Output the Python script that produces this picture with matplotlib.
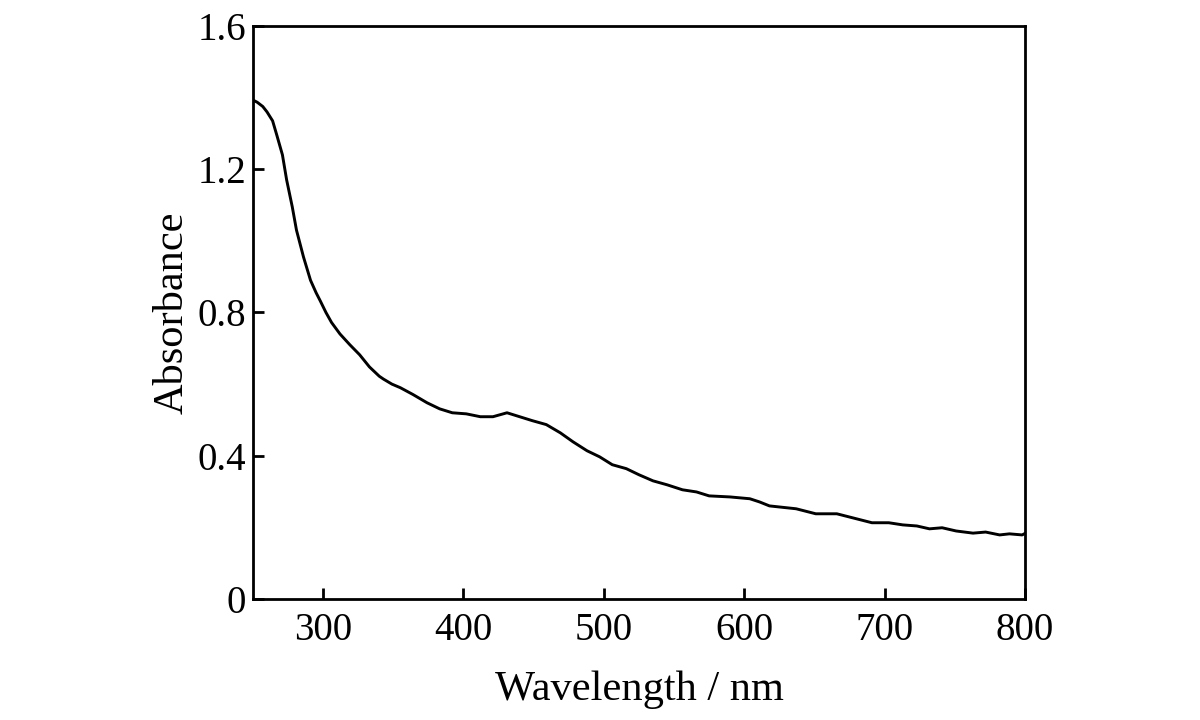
import matplotlib
matplotlib.use("Agg")
import matplotlib.pyplot as plt

# UV-vis spectrum
wavelength = [250, 253, 257, 260, 264, 267, 271, 274, 278, 281, 286, 291, 295, 298,
              302, 306, 312, 319, 326, 333, 340, 343, 349, 355, 364, 374, 383, 392,
              402, 412, 421, 431, 440, 449, 459, 469, 478, 488, 497, 506, 516, 525,
              535, 545, 556, 566, 575, 590, 604, 611, 618, 637, 651, 666, 680, 691,
              703, 713, 723, 732, 741, 751, 763, 772, 782, 789, 798, 800]
absorbance = [1.393, 1.387, 1.375, 1.36, 1.335, 1.295, 1.24, 1.17, 1.095, 1.03, 0.955,
              0.89, 0.855, 0.832, 0.80, 0.772, 0.74, 0.71, 0.682, 0.648, 0.622, 0.614,
              0.60, 0.59, 0.571, 0.548, 0.531, 0.52, 0.517, 0.509, 0.509, 0.52, 0.509,
              0.498, 0.487, 0.464, 0.439, 0.414, 0.397, 0.375, 0.364, 0.347, 0.33,
              0.319, 0.305, 0.299, 0.288, 0.285, 0.28, 0.271, 0.26, 0.252, 0.238,
              0.238, 0.224, 0.213, 0.213, 0.207, 0.204, 0.196, 0.199, 0.19, 0.184,
              0.187, 0.179, 0.182, 0.179, 0.183]

x_ticks = [300, 400, 500, 600, 700, 800]
y_ticks = [0, 0.4, 0.8, 1.2, 1.6]
y_tick_labels = ["0", "0.4", "0.8", "1.2", "1.6"]

plt.rcParams['font.family'] = ['Liberation Serif', 'DejaVu Serif']

fig = plt.figure(figsize=(12, 7.2), dpi=100)
ax = fig.add_axes([0.2108, 0.168, 0.6433, 0.796])

ax.plot(wavelength, absorbance, color="black", linewidth=2.1)

ax.set_xlim(250, 800)
ax.set_ylim(0, 1.6)
ax.set_xticks(x_ticks)
ax.set_yticks(y_ticks)
ax.set_yticklabels(y_tick_labels)

ax.tick_params(direction="in", length=8, width=2, labelsize=28,
               top=False, right=False)
ax.tick_params(axis="x", pad=9)
ax.tick_params(axis="y", pad=5)
for s in ax.spines.values():
    s.set_linewidth(2)

ax.set_xlabel("Wavelength / nm", fontsize=30.5, labelpad=16)
ax.set_ylabel("Absorbance", fontsize=30.5, labelpad=4)

fig.savefig("out.png", dpi=100)
